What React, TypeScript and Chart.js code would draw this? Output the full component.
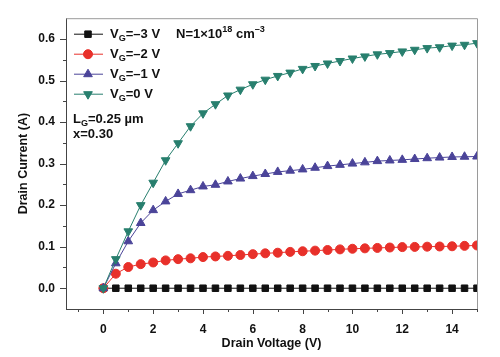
import React, { useEffect, useRef } from "react";
import { Chart, registerables } from "chart.js";

Chart.register(...registerables);

const drainVoltage = [0, 0.5, 1, 1.5, 2, 2.5, 3, 3.5, 4, 4.5, 5, 5.5, 6, 6.5, 7, 7.5, 8, 8.5, 9, 9.5, 10, 10.5, 11, 11.5, 12, 12.5, 13, 13.5, 14, 14.5, 15];
const vgMinus3 = [0, 0, 0, 0, 0, 0, 0, 0, 0, 0, 0, 0, 0, 0, 0, 0, 0, 0, 0, 0, 0, 0, 0, 0, 0, 0, 0, 0, 0, 0, 0];
const vgMinus2 = [0, 0.035, 0.051, 0.058, 0.062, 0.067, 0.07, 0.072, 0.075, 0.0765, 0.078, 0.08, 0.082, 0.084, 0.0855, 0.0875, 0.089, 0.0905, 0.092, 0.0935, 0.095, 0.096, 0.097, 0.098, 0.099, 0.0995, 0.1, 0.1005, 0.101, 0.102, 0.103];
const vgMinus1 = [0, 0.06, 0.113, 0.157, 0.188, 0.209, 0.227, 0.236, 0.245, 0.249, 0.257, 0.264, 0.27, 0.275, 0.28, 0.283, 0.286, 0.29, 0.294, 0.297, 0.3, 0.303, 0.306, 0.3075, 0.309, 0.311, 0.313, 0.3145, 0.316, 0.3165, 0.317];
const vg0 = [0, 0.07, 0.137, 0.2, 0.254, 0.308, 0.349, 0.39, 0.421, 0.443, 0.464, 0.478, 0.491, 0.502, 0.511, 0.519, 0.528, 0.535, 0.541, 0.547, 0.553, 0.558, 0.563, 0.566, 0.57, 0.574, 0.578, 0.58, 0.584, 0.586, 0.59];

const xMajorTicks = [0, 2, 4, 6, 8, 10, 12, 14];
const xMinorTicks = [-1, 1, 3, 5, 7, 9, 11, 13, 15];
const yMajorTicks = [0, 0.1, 0.2, 0.3, 0.4, 0.5, 0.6];
const yMinorTicks = [0.05, 0.15, 0.25, 0.35, 0.45, 0.55];

const seriesNames = ["–3", "–2", "–1", "0"];
const colors = ["#111111", "#e8302a", "#4b4499", "#287f6e"];
const pointStyles = ["rect", "circle", "triangle", "triangle"];
const pointRotations = [0, 0, 0, 180];
const pointRadii = [4.6, 4.5, 5, 5];

const FONT = "'Liberation Sans', Arial, sans-serif";

type Part = { t: string; k?: "sub" | "sup" };

function drawRich(ctx: CanvasRenderingContext2D, x: number, y: number, parts: Part[], size: number) {
  let cx = x;
  ctx.textBaseline = "middle";
  ctx.textAlign = "left";
  for (const p of parts) {
    const s = p.k ? size * 0.7 : size;
    ctx.font = `bold ${s}px ${FONT}`;
    const dy = p.k === "sub" ? size * 0.3 : p.k === "sup" ? -size * 0.35 : 0;
    ctx.fillText(p.t, cx, y + dy);
    cx += ctx.measureText(p.t).width;
  }
}

function drawMarker(ctx: CanvasRenderingContext2D, style: string, r: number, rot: number, x: number, y: number, color: string) {
  ctx.save();
  ctx.fillStyle = color;
  ctx.strokeStyle = color;
  ctx.beginPath();
  if (style === "rect") {
    const s = Math.SQRT1_2 * r;
    ctx.rect(x - s, y - s, 2 * s, 2 * s);
  } else if (style === "circle") {
    ctx.arc(x, y, r, 0, Math.PI * 2);
  } else {
    const base = (rot * Math.PI) / 180;
    for (let k = 0; k < 3; k++) {
      const a = base - Math.PI / 2 + (k * 2 * Math.PI) / 3;
      const px = x + Math.cos(a) * r;
      const py = y + Math.sin(a) * r;
      if (k === 0) ctx.moveTo(px, py);
      else ctx.lineTo(px, py);
    }
    ctx.closePath();
  }
  ctx.fill();
  ctx.stroke();
  ctx.restore();
}

const decorPlugin = {
  id: "decor",
  afterDraw(chart: any) {
    const ctx: CanvasRenderingContext2D = chart.ctx;
    const { left, right, top, bottom } = chart.chartArea;
    const xs = chart.scales.x;
    const ys = chart.scales.y;
    ctx.save();
    ctx.strokeStyle = "#9a9a9a";
    ctx.lineWidth = 1;
    ctx.beginPath();
    ctx.moveTo(left, top + 0.5);
    ctx.lineTo(right + 0.5, top + 0.5);
    ctx.lineTo(right + 0.5, bottom);
    ctx.stroke();

    ctx.strokeStyle = "#444";
    ctx.beginPath();
    for (const v of xMajorTicks) {
      const px = Math.round(xs.getPixelForValue(v)) + 0.5;
      ctx.moveTo(px, bottom);
      ctx.lineTo(px, bottom + 5);
    }
    for (const v of xMinorTicks) {
      const px = Math.round(xs.getPixelForValue(v)) + 0.5;
      ctx.moveTo(px, bottom);
      ctx.lineTo(px, bottom + 3);
    }
    for (const v of yMajorTicks) {
      const py = Math.round(ys.getPixelForValue(v)) + 0.5;
      ctx.moveTo(left, py);
      ctx.lineTo(left - 6, py);
    }
    for (const v of yMinorTicks) {
      const py = Math.round(ys.getPixelForValue(v)) + 0.5;
      ctx.moveTo(left, py);
      ctx.lineTo(left - 3, py);
    }
    ctx.stroke();

    for (let i = 0; i < seriesNames.length; i++) {
      const cy = top + 16 + i * 20;
      ctx.strokeStyle = colors[i];
      ctx.lineWidth = 1;
      ctx.beginPath();
      ctx.moveTo(left + 8, cy);
      ctx.lineTo(left + 37, cy);
      ctx.stroke();
      drawMarker(ctx, pointStyles[i], pointRadii[i], pointRotations[i], left + 22, cy, colors[i]);
      ctx.fillStyle = "#111";
      drawRich(ctx, left + 44, cy, [{ t: "V" }, { t: "G", k: "sub" }, { t: "=" + seriesNames[i] + " V" }], 13);
    }
    ctx.fillStyle = "#111";
    drawRich(ctx, left + 110, top + 16, [{ t: "N=1×10" }, { t: "18", k: "sup" }, { t: " cm" }, { t: "–3", k: "sup" }], 13);
    drawRich(ctx, left + 7, top + 101, [{ t: "L" }, { t: "G", k: "sub" }, { t: "=0.25 µm" }], 13);
    drawRich(ctx, left + 7, top + 116, [{ t: "x=0.30" }], 13);
    ctx.restore();
  },
};

export default function App() {
  const ref = useRef<HTMLCanvasElement>(null);
  useEffect(() => {
    document.body.style.margin = "0";
    const seriesValues = [vgMinus3, vgMinus2, vgMinus1, vg0];
    const orders = [3, 2, 1, 0];
    const chart = new Chart(ref.current as HTMLCanvasElement, {
      type: "line",
      data: {
        datasets: seriesValues.map((vals, i) => ({
          label: "VG=" + seriesNames[i] + " V",
          data: drainVoltage.map((x, j) => ({ x, y: vals[j] })),
          borderColor: colors[i],
          backgroundColor: colors[i],
          borderWidth: 1,
          pointStyle: pointStyles[i] as any,
          pointRotation: pointRotations[i],
          pointRadius: pointRadii[i],
          pointBorderWidth: 1,
          pointBackgroundColor: colors[i],
          pointBorderColor: colors[i],
          tension: 0,
          order: orders[i],
        })),
      },
      options: {
        animation: false,
        responsive: false,
        events: [],
        layout: { padding: { left: 0, top: 12, right: 23, bottom: 0 } },
        plugins: { legend: { display: false }, tooltip: { enabled: false } },
        scales: {
          x: {
            type: "linear",
            min: -1.5,
            max: 15,
            afterBuildTicks: (s: any) => {
              s.ticks = xMajorTicks.map((v) => ({ value: v }));
            },
            afterFit: (s: any) => {
              s.height = 48;
            },
            ticks: {
              autoSkip: false,
              maxRotation: 0,
              padding: 13,
              color: "#111",
              font: { family: FONT, size: 12, weight: "bold" },
              callback: (v: any) => String(v),
            },
            grid: { display: false, drawTicks: false },
            border: { display: true, color: "#444", width: 1 },
            title: {
              display: true,
              text: "Drain Voltage (V)",
              color: "#111",
              font: { family: FONT, size: 12.5, weight: "bold" },
              padding: { top: 0, bottom: 6 },
            },
          },
          y: {
            type: "linear",
            min: -0.05,
            max: 0.65,
            afterBuildTicks: (s: any) => {
              s.ticks = yMajorTicks.map((v) => ({ value: v }));
            },
            afterFit: (s: any) => {
              s.width = 66;
            },
            ticks: {
              autoSkip: false,
              padding: 11,
              color: "#111",
              font: { family: FONT, size: 12, weight: "bold" },
              callback: (v: any) => Number(v).toFixed(1),
            },
            grid: { display: false, drawTicks: false },
            border: { display: true, color: "#444", width: 1 },
            title: {
              display: true,
              text: "Drain Current (A)",
              color: "#111",
              font: { family: FONT, size: 12.5, weight: "bold" },
              padding: { top: 16, bottom: 0 },
            },
          },
        },
      },
      plugins: [decorPlugin],
    });
    return () => chart.destroy();
  }, []);
  return <canvas ref={ref} width={500} height={357} style={{ display: "block" }} />;
}
